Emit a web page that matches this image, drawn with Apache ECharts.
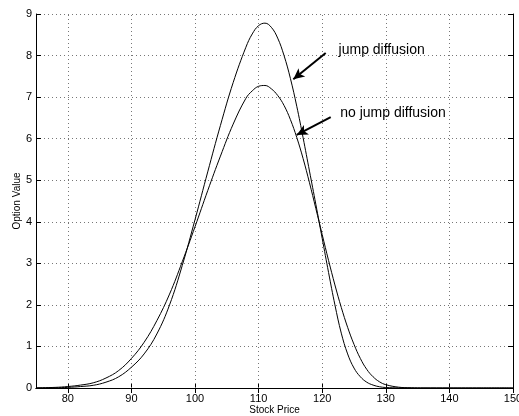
<!DOCTYPE html>
<html>
<head>
<meta charset="utf-8">
<script src="https://cdn.jsdelivr.net/npm/echarts@6/dist/echarts.min.js"></script>
<style>html,body{margin:0;padding:0;background:#fff;}#chart{width:519px;height:416px;}</style>
</head>
<body>
<div id="chart"></div>
<script>
var stockPrice = [75, 78, 80, 82, 84, 86, 88, 90, 92, 94, 96, 98, 100, 102, 104, 106, 108, 109, 110, 111, 112, 113, 114, 115, 116, 117, 118, 119, 120, 121, 122, 123, 124, 125, 126, 127, 128, 129, 130, 132, 134, 136, 140, 145, 150];
var jumpDiffusion = [0, 0.005, 0.015, 0.035, 0.065, 0.14, 0.27, 0.5, 0.82, 1.3, 2.0, 2.95, 4.05, 5.2, 6.32, 7.35, 8.2, 8.52, 8.72, 8.78, 8.68, 8.42, 8.0, 7.45, 6.78, 6.02, 5.22, 4.42, 3.6, 2.78, 2.0, 1.32, 0.82, 0.48, 0.27, 0.14, 0.07, 0.03, 0.012, 0.003, 0, 0, 0, 0, 0];
var noJumpDiffusion = [0.003, 0.015, 0.035, 0.07, 0.125, 0.24, 0.42, 0.71, 1.1, 1.62, 2.26, 3.04, 3.88, 4.75, 5.58, 6.35, 6.97, 7.15, 7.26, 7.28, 7.2, 7.04, 6.8, 6.46, 6.03, 5.52, 4.94, 4.32, 3.69, 3.07, 2.48, 1.94, 1.46, 1.05, 0.71, 0.45, 0.27, 0.15, 0.08, 0.02, 0.005, 0.001, 0, 0, 0];
var xTicks = [80, 90, 100, 110, 120, 130, 140, 150];
var yTicks = [0, 1, 2, 3, 4, 5, 6, 7, 8, 9];
var labelJump = 'jump diffusion';
var labelNoJump = 'no jump diffusion';
var arrowJump = [[120.55, 8.06], [115.46, 7.43]];
var arrowNoJump = [[121.34, 6.52], [115.99, 6.09]];
var textJumpAt = [122.5, 8.14];
var textNoJumpAt = [122.75, 6.62];

var font = 'Liberation Sans, Arial, Helvetica, sans-serif';
var chart = echarts.init(document.getElementById('chart'), null, {renderer: 'canvas'});

function pairs(xs, ys) { return xs.map(function (x, i) { return [x, ys[i]]; }); }

var gridStyle = {color: '#777', type: [1, 3], width: 1};
var axisLineStyle = {show: true, lineStyle: {color: '#000', width: 1}};
function tickStyle(vals) { return {show: true, inside: true, length: 5, customValues: vals, lineStyle: {color: '#000'}}; }

chart.setOption({
  animation: false,
  backgroundColor: '#fff',
  grid: {left: 36, right: 6, top: 14, bottom: 28, containLabel: false, outerBoundsMode: 'none'},
  xAxis: [{
    type: 'value', min: 75, max: 150, position: 'bottom',
    name: 'Stock Price', nameLocation: 'middle', nameGap: 17, nameMoveOverlap: false,
    nameTextStyle: {fontFamily: font, fontSize: 10, color: '#000'},
    axisLine: axisLineStyle, axisTick: tickStyle(xTicks),
    axisLabel: {customValues: xTicks, fontFamily: font, fontSize: 11, color: '#000', margin: 5, hideOverlap: false},
    splitLine: {show: false}
  }, {
    type: 'value', min: 75, max: 150, position: 'top',
    axisLine: axisLineStyle, axisTick: tickStyle(xTicks),
    axisLabel: {show: false}, splitLine: {show: false}
  }],
  yAxis: [{
    type: 'value', min: 0, max: 9, interval: 1, position: 'left',
    name: 'Option Value', nameLocation: 'middle', nameGap: 14, nameMoveOverlap: false,
    nameTextStyle: {fontFamily: font, fontSize: 10, color: '#000'},
    axisLine: axisLineStyle, axisTick: tickStyle(yTicks),
    axisLabel: {customValues: yTicks, fontFamily: font, fontSize: 11, color: '#000', margin: 4},
    splitLine: {show: true, lineStyle: gridStyle}
  }, {
    type: 'value', min: 0, max: 9, interval: 1, position: 'right',
    axisLine: axisLineStyle, axisTick: tickStyle(yTicks),
    axisLabel: {show: false}, splitLine: {show: false}
  }],
  series: [{
    name: labelNoJump, type: 'line', data: pairs(stockPrice, noJumpDiffusion),
    smooth: 0.4, showSymbol: false, lineStyle: {color: '#000', width: 1}, z: 3,
    markLine: {
      silent: true, symbol: ['none', 'none'], z: 1,
      lineStyle: gridStyle, label: {show: false},
      data: xTicks.filter(function (v) { return v < 150; }).map(function (v) { return {xAxis: v}; })
    }
  }, {
    name: labelJump, type: 'line', data: pairs(stockPrice, jumpDiffusion),
    smooth: 0.4, showSymbol: false, lineStyle: {color: '#000', width: 1}, z: 3,
    markLine: {
      silent: true, symbol: ['none', 'arrow'], symbolSize: [8, 11],
      lineStyle: {color: '#000', width: 2, type: 'solid'}, label: {show: false},
      data: [
        [{coord: arrowJump[0]}, {coord: arrowJump[1]}],
        [{coord: arrowNoJump[0]}, {coord: arrowNoJump[1]}]
      ]
    },
    markPoint: {
      silent: true, symbol: 'rect', symbolSize: 1, itemStyle: {color: 'rgba(0,0,0,0)'},
      data: [
        {coord: textJumpAt, label: {show: true, formatter: labelJump, position: 'right', distance: 0, fontFamily: font, fontSize: 14, color: '#000'}},
        {coord: textNoJumpAt, label: {show: true, formatter: labelNoJump, position: 'right', distance: 0, fontFamily: font, fontSize: 14, color: '#000'}}
      ]
    }
  }]
});
</script>
</body>
</html>
